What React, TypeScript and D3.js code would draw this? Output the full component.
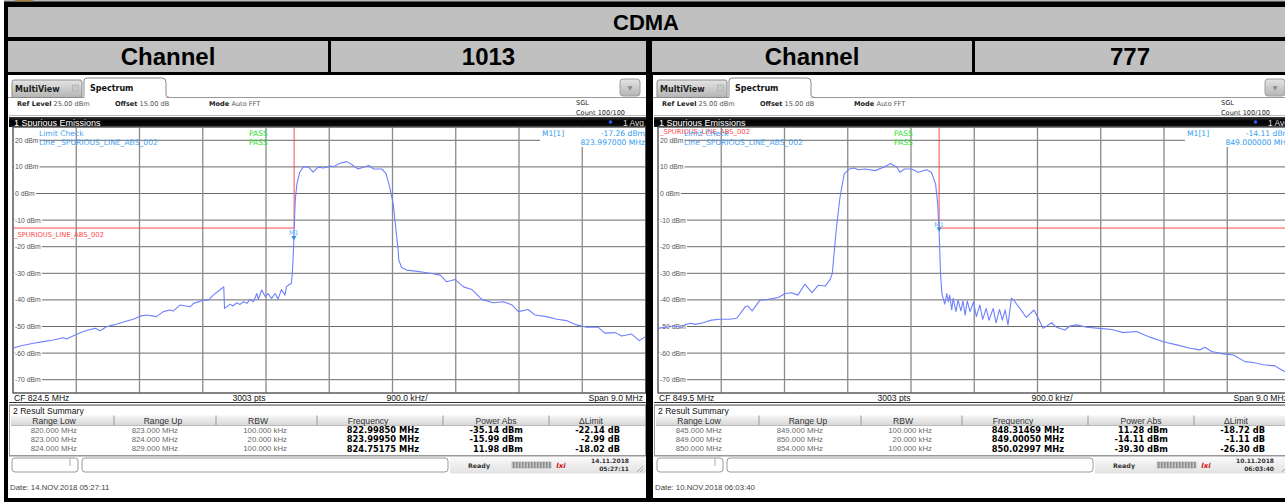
import React from 'react';
import * as d3 from 'd3';

const W = 1285;
const H = 502;

const SANS = "'Liberation Sans', Arial, sans-serif";
const VERD = "'DejaVu Sans', Verdana, sans-serif";

const yTicks = [20, 10, 0, -10, -20, -30, -40, -50, -60, -70];
const tableHeads = ['Range Low', 'Range Up', 'RBW', 'Frequency', 'Power Abs', '\u0394Limit'];

// channel 1013, CF 824.5 MHz (MHz, dBm)
const trace1013: [number, number][] = [
  [820.0, -58.2], [820.1, -57.3], [820.29, -56.3], [820.43, -55.7], [820.57, -55.1], [820.72, -54.2],
  [820.76, -54.7], [820.91, -52.9], [821.0, -51.9], [821.1, -51.1], [821.17, -50.7], [821.24, -51.6],
  [821.33, -50.1], [821.43, -49.4], [821.62, -47.9], [821.71, -47.3], [821.81, -46.1], [821.9, -45.7],
  [822.04, -46.3], [822.14, -44.4], [822.23, -43.8], [822.28, -44.2], [822.38, -41.9], [822.52, -42.6],
  [822.57, -41.3], [822.71, -40.1], [822.78, -40.1], [822.85, -38.2], [822.97, -35.7], [822.999, -35.1],
  [823.01, -43.2], [823.04, -42.6], [823.09, -41.6], [823.13, -42.3], [823.18, -41.1], [823.23, -41.7],
  [823.28, -40.7], [823.33, -41.3], [823.37, -39.8], [823.42, -40.7], [823.47, -37.6], [823.49, -39.8],
  [823.54, -36.3], [823.59, -38.8], [823.63, -37.6], [823.68, -39.4], [823.73, -37.6], [823.77, -39.7],
  [823.82, -36.1], [823.87, -38.2], [823.89, -35.1], [823.93, -34.2], [823.96, -33.8], [823.975, -30.1],
  [823.997, -17.3], [824.01, -6.4], [824.02, -1.4], [824.04, 3.6], [824.08, 8.0], [824.13, 9.9],
  [824.2, 10.1], [824.27, 8.0], [824.34, 9.9], [824.42, 9.6], [824.51, 10.3], [824.56, 10.1],
  [824.65, 11.4], [824.75, 11.98], [824.82, 10.9], [824.91, 9.2], [825.06, 10.5], [825.13, 9.2],
  [825.25, 9.2], [825.31, 7.4], [825.36, 2.4], [825.41, -3.9], [825.46, -16.4], [825.48, -21.3],
  [825.49, -25.1], [825.53, -27.8], [825.6, -28.8], [825.7, -29.1], [825.82, -29.5], [825.96, -30.1],
  [826.08, -30.7], [826.17, -33.2], [826.29, -32.3], [826.41, -35.1], [826.53, -36.1], [826.67, -39.8],
  [826.83, -41.1], [826.98, -40.7], [827.1, -41.9], [827.19, -44.4], [827.33, -43.6], [827.43, -45.7],
  [827.59, -46.3], [827.74, -47.3], [827.88, -47.8], [828.02, -49.4], [828.16, -50.3], [828.33, -50.3],
  [828.42, -52.5], [828.57, -52.3], [828.66, -53.6], [828.8, -52.8], [828.91, -55.3], [829.0, -53.8],
];

// channel 777, CF 849.5 MHz (MHz, dBm)
const trace777: [number, number][] = [
  [845.0, -50.7], [845.1, -50.3], [845.22, -49.8], [845.34, -50.3], [845.38, -49.4], [845.46, -48.8],
  [845.53, -49.2], [845.64, -48.6], [845.76, -47.6], [845.88, -47.3], [846.02, -47.3], [846.12, -46.9],
  [846.24, -42.6], [846.28, -42.3], [846.34, -44.1], [846.45, -40.1], [846.57, -39.8], [846.71, -39.1],
  [846.81, -37.6], [846.9, -37.3], [846.99, -38.2], [847.09, -34.1], [847.19, -37.3], [847.28, -34.5],
  [847.38, -34.8], [847.45, -32.3], [847.48, -30.1], [847.51, -21.3], [847.54, -12.6], [847.59, -1.4],
  [847.65, 7.4], [847.72, 9.2], [847.79, 9.6], [847.85, 8.9], [847.95, 9.2], [848.09, 8.6],
  [848.21, 9.9], [848.31, 11.28], [848.4, 9.9], [848.44, 8.0], [848.51, 9.2], [848.61, 9.2],
  [848.7, 8.0], [848.82, 8.9], [848.89, 8.0], [848.95, 3.6], [848.98, -3.9], [849.0, -14.11],
  [849.02, -30.1], [849.04, -37.6], [849.08, -41.6], [849.11, -37.6], [849.13, -40.7], [849.15, -38.2],
  [849.18, -43.8], [849.2, -39.4], [849.24, -44.4], [849.27, -40.1], [849.31, -44.1], [849.34, -40.4],
  [849.37, -45.7], [849.4, -40.4], [849.44, -44.4], [849.49, -40.7], [849.53, -46.3], [849.58, -41.9],
  [849.62, -47.3], [849.67, -43.2], [849.71, -47.6], [849.77, -43.2], [849.81, -48.6], [849.86, -43.6],
  [849.9, -47.6], [849.94, -43.8], [849.98, -49.4], [850.03, -39.3], [850.06, -40.1], [850.15, -43.2],
  [850.24, -46.6], [850.35, -43.8], [850.41, -46.9], [850.48, -50.7], [850.6, -48.6], [850.67, -50.3],
  [850.79, -51.3], [850.86, -49.8], [850.96, -49.4], [851.1, -50.3], [851.28, -50.7], [851.46, -51.1],
  [851.62, -52.3], [851.81, -51.9], [852.0, -54.0], [852.19, -55.7], [852.38, -56.9], [852.57, -58.2],
  [852.71, -58.8], [852.78, -57.8], [852.88, -59.4], [853.04, -60.3], [853.19, -60.7], [853.35, -63.2],
  [853.49, -63.6], [853.61, -64.4], [853.78, -64.8], [853.85, -66.0], [853.92, -66.9], [854.0, -67.3],
];

const limit1013: [number, number][] = [[820, -13], [824, -13], [824, 30]];
const limit777: [number, number][] = [[849, 30], [849, -13], [854, -13]];

const rangeLow1013 = ['820.000 MHz', '823.000 MHz', '824.000 MHz'];
const rangeUp1013 = ['823.000 MHz', '824.000 MHz', '829.000 MHz'];
const rangeLow777 = ['845.000 MHz', '849.000 MHz', '850.000 MHz'];
const rangeUp777 = ['849.000 MHz', '850.000 MHz', '854.000 MHz'];
const rbwValues = ['100.000 kHz', '20.000 kHz', '100.000 kHz'];
const peakFreq1013 = ['822.99850 MHz', '823.99950 MHz', '824.75175 MHz'];
const powerAbs1013 = ['-35.14 dBm', '-15.99 dBm', '11.98 dBm'];
const deltaLimit1013 = ['-22.14 dB', '-2.99 dB', '-18.02 dB'];
const peakFreq777 = ['848.31469 MHz', '849.00050 MHz', '850.02997 MHz'];
const powerAbs777 = ['11.28 dBm', '-14.11 dBm', '-39.30 dBm'];
const deltaLimit777 = ['-18.72 dB', '-1.11 dB', '-26.30 dB'];

interface PanelCfg {
  start: number;
  cf: string;
  trace: [number, number][];
  limit: [number, number][];
  limitLabelTop: boolean;
  marker: [number, number];
  markerText: [string, string];
  cols: string[][];
  date: string;
  time: string;
  dateLine: string;
}

const panels: PanelCfg[] = [
  {
    start: 820, cf: 'CF 824.5 MHz', trace: trace1013, limit: limit1013, limitLabelTop: false,
    marker: [823.997, -17.26], markerText: ['-17.26 dBm', '823.997000 MHz'],
    cols: [rangeLow1013, rangeUp1013, rbwValues, peakFreq1013, powerAbs1013, deltaLimit1013],
    date: '14.11.2018', time: '05:27:11', dateLine: 'Date: 14.NOV.2018  05:27:11',
  },
  {
    start: 845, cf: 'CF 849.5 MHz', trace: trace777, limit: limit777, limitLabelTop: true,
    marker: [849.0, -14.11], markerText: ['-14.11 dBm', '849.000000 MHz'],
    cols: [rangeLow777, rangeUp777, rbwValues, peakFreq777, powerAbs777, deltaLimit777],
    date: '10.11.2018', time: '06:03:40', dateLine: 'Date: 10.NOV.2018  06:03:40',
  },
];

const channels = ['1013', '777'];

// table column geometry (panel coords)
const colDiv = [114, 216, 317, 443, 549];
const headCenter = [54, 163, 258, 368, 496, 591];
const valRight = [77, 178, 287, 419, 523, 620];

const Panel: React.FC<{ ox: number; cfg: PanelCfg; idx: number }> = ({ ox, cfg, idx }) => {
  const x = d3.scaleLinear().domain([cfg.start, cfg.start + 9]).range([13, 645.5]);
  const y = d3.scaleLinear().domain([-75, 25]).range([393, 127]);
  const line = d3.line<[number, number]>().x(d => x(d[0])).y(d => y(d[1]));
  const vGrid = d3.range(1, 10).map(i => cfg.start + i * 0.9);
  const clipId = `plotclip${idx}`;
  const mx = x(cfg.marker[0]);
  const my = y(cfg.marker[1]);
  const limY = y(-13);
  const limStartX = x(cfg.limit[0][0]);
  return (
    <g transform={`translate(${ox},0)`}>
      <defs>
        <clipPath id={clipId}>
          <rect x={13} y={127} width={632.5} height={266} />
        </clipPath>
      </defs>
      <rect x={8} y={75} width={638} height={423} fill="#fff" />
      {/* tabs */}
      <line x1={8} x2={646} y1={97.5} y2={97.5} stroke="#9a9a9a" />
      <path d="M12,97.5 L12,82 Q12,80 14,80 L80,80 Q82,80 82,82 L82,97.5 Z" fill="url(#tabGrad)" stroke="#8a8a8a" />
      <text x={15} y={91.5} fontFamily={VERD} fontWeight="bold" fontSize={8} fill="#222">MultiView</text>
      <rect x={72.5} y={85} width={6} height={6} fill="#c8c8c8" stroke="#a8a8a8" strokeWidth={0.6} />
      <path d="M84,98 L84,81 Q84,78 87,78 L162,78 Q166,78 166,82 L166,95 Q166,97.5 170,97.5" fill="#fff" stroke="#8a8a8a" />
      <rect x={84.5} y={96.5} width={81} height={2} fill="#fff" />
      <text x={90} y={90.5} fontFamily={VERD} fontWeight="bold" fontSize={8} fill="#111">Spectrum</text>
      <rect x={620} y={79} width={20} height={17} rx={3} fill="url(#tabGrad)" stroke="#a0a0a0" />
      <text x={630} y={90} textAnchor="middle" fontSize={6} fill="#888" fontFamily={VERD}>{'\u25BC'}</text>
      {/* settings row */}
      <g fontFamily={VERD} fontSize={6.6} fill="#555">
        <text x={17} y={105.5}><tspan fontWeight="bold" fill="#222">Ref Level</tspan> 25.00 dBm</text>
        <text x={115} y={105.5}><tspan fontWeight="bold" fill="#222">Offset</tspan> 15.00 dB</text>
        <text x={209} y={105.5}><tspan fontWeight="bold" fill="#222">Mode</tspan> Auto FFT</text>
        <text x={576} y={105} fill="#222">SGL</text>
        <text x={576} y={114.5} fill="#222">Count 100/100</text>
      </g>
      <line x1={9} x2={646} y1={115.5} y2={115.5} stroke="#bbb" />
      <rect x={9} y={117} width={637} height={10} fill="url(#barGrad)" />
      <text x={14} y={125.5} fontFamily={SANS} fontSize={9} fill="#fff">1 Spurious Emissions</text>
      <circle cx={610.5} cy={122} r={1.8} fill="#2a5cff" />
      <text x={644} y={125.5} textAnchor="end" fontFamily={SANS} fontSize={8.5} fill="#ddd">1 Avg</text>
      {/* plot */}
      <rect x={13} y={127} width={632.5} height={266} fill="#fff" stroke="#666" />
      <g clipPath={`url(#${clipId})`}>
        {yTicks.map(t => (
          <line key={`h${t}`} x1={13} x2={646} y1={y(t)} y2={y(t)} stroke="#6a6a6a" strokeWidth={1} />
        ))}
        {vGrid.map(f => (
          <line key={`v${f}`} x1={x(f)} x2={x(f)} y1={127} y2={393} stroke="#8a8a8a" strokeWidth={1.3} />
        ))}
        {yTicks.map(t => (
          <text key={`l${t}`} x={15} y={y(t) + 2.4} fontFamily={SANS} fontSize={6.8} fill="#555"
            stroke="#fff" strokeWidth={3} paintOrder="stroke">{`${t} dBm`}</text>
        ))}
        <g fontFamily={VERD} fontSize={7.6}>
          {cfg.limitLabelTop && (
            <text x={15} y={133.5} fill="#ff4a4a" fontSize={6.8}>_SPURIOUS_LINE_ABS_002</text>
          )}
          <text x={39} y={135.5} fill="#4a9ff0">Limit Check</text>
          <text x={39} y={145} fill="#4a9ff0">Line _SPURIOUS_LINE_ABS_002</text>
          <text x={249} y={135.5} fill="#2ee02e">PASS</text>
          <text x={249} y={145} fill="#2ee02e">PASS</text>
        </g>
        <path d={line(cfg.limit) || ''} fill="none" stroke="#ff4c4c" strokeWidth={1} />
        {!cfg.limitLabelTop && (
          <text x={limStartX + 1} y={limY + 8.5} fontFamily={VERD} fontSize={6.8} fill="#ff4a4a">_SPURIOUS_LINE_ABS_002</text>
        )}
        <path d={line(cfg.trace) || ''} fill="none" stroke="#6f80ff" strokeWidth={1.1} strokeLinejoin="round" />
        <path d={`M${mx - 2.6},${my - 3.5} L${mx + 2.6},${my - 3.5} L${mx},${my + 0.8} Z`} fill="#2a8fe6" />
        <text x={mx} y={my - 4.5} textAnchor="middle" fontFamily={VERD} fontSize={6.5} fill="#5ab4f0">M1</text>
        <rect x={540} y={128} width={106} height={19} fill="#fff" />
        <g fontFamily={VERD} fontSize={7.6} fill="#2f9cf0">
          <text x={542} y={135.5}>M1[1]</text>
          <text x={645} y={135.5} textAnchor="end">{cfg.markerText[0]}</text>
          <text x={645} y={145} textAnchor="end">{cfg.markerText[1]}</text>
        </g>
      </g>
      <rect x={13} y={127} width={632.5} height={266} fill="none" stroke="#555" />
      {/* frequency row */}
      <g fontFamily={SANS} fontSize={8.6} fill="#111">
        <text x={14} y={400.5}>{cfg.cf}</text>
        <text x={249} y={400.5} textAnchor="middle">3003 pts</text>
        <text x={407} y={400.5} textAnchor="middle">900.0 kHz/</text>
        <text x={643} y={400.5} textAnchor="end">Span 9.0 MHz</text>
      </g>
      <line x1={9} x2={646} y1={402.5} y2={402.5} stroke="#333" />
      <line x1={9} x2={646} y1={404.5} y2={404.5} stroke="#aaa" />
      {/* result summary */}
      <rect x={9.5} y={405.5} width={636} height={50} fill="#fff" stroke="#999" />
      <text x={13} y={413.5} fontFamily={SANS} fontSize={8.6} fill="#111">2 Result Summary</text>
      <rect x={11} y={415.5} width={634} height={10} fill="url(#headGrad)" />
      {colDiv.map(d => (
        <line key={`cd${d}`} x1={d} x2={d} y1={415.5} y2={425.5} stroke="#999" />
      ))}
      <line x1={11} x2={645} y1={425.5} y2={425.5} stroke="#bbb" />
      {tableHeads.map((h, i) => (
        <text key={h} x={headCenter[i]} y={423.5} textAnchor="middle" fontFamily={SANS} fontSize={8.6} fill="#333">{h}</text>
      ))}
      {cfg.cols.map((col, ci) => col.map((v, ri) => (
        ci < 3 ? (
          <text key={`c${ci}${ri}`} x={valRight[ci]} y={432.5 + ri * 9.3} textAnchor="end"
            fontFamily={SANS} fontSize={7.8} fill="#6a6a6a">{v}</text>
        ) : (
          <text key={`c${ci}${ri}`} x={valRight[ci]} y={433 + ri * 9.3} textAnchor="end"
            fontFamily={VERD} fontWeight="bold" fontSize={8.3} fill="#000">{v}</text>
        )
      )))}
      {/* status bar */}
      <rect x={450} y={456.5} width={196} height={17} fill="url(#statGrad)" />
      <line x1={9} x2={646} y1={456.5} y2={456.5} stroke="#ccc" />
      <rect x={12} y={458} width={66} height={14} rx={3} fill="#fff" stroke="#9a9a9a" />
      <line x1={70} x2={70} y1={458} y2={466} stroke="#aaa" />
      <rect x={82} y={458} width={366} height={14} rx={3} fill="#fff" stroke="#9a9a9a" />
      <text x={468} y={467.5} fontFamily={VERD} fontWeight="bold" fontSize={6.3} fill="#333">Ready</text>
      <rect x={512} y={462} width={39} height={6} fill="url(#progPat)" stroke="#999" strokeWidth={0.5} />
      <text x={561} y={468} textAnchor="middle" fontFamily={VERD} fontWeight="bold" fontStyle="italic"
        fontSize={7} fill="#d01010">lxi</text>
      <g fontFamily={VERD} fontWeight="bold" fontSize={6} fill="#333" textAnchor="end">
        <text x={629} y={463}>{cfg.date}</text>
        <text x={629} y={471}>{cfg.time}</text>
      </g>
      <path d="M643,466 L637,472 M643,469 L640,472" stroke="#999" strokeWidth={0.8} />
      <text x={10} y={490} fontFamily={SANS} fontSize={7.8} fill="#444">{cfg.dateLine}</text>
    </g>
  );
};

const App: React.FC = () => {
  const headCells: [number, number, string][] = [
    [8, 328, 'Channel'], [331, 646, channels[0]], [652, 972, 'Channel'], [975, 1285, channels[1]],
  ];
  return (
    <svg width={W} height={H} style={{ position: 'absolute', left: 0, top: 0, display: 'block' }}>
      <defs>
        <linearGradient id="tabGrad" x1="0" y1="0" x2="0" y2="1">
          <stop offset="0" stopColor="#e4e4e4" />
          <stop offset="1" stopColor="#b4b4b4" />
        </linearGradient>
        <linearGradient id="barGrad" x1="0" y1="0" x2="0" y2="1">
          <stop offset="0" stopColor="#3a3a3a" />
          <stop offset="0.4" stopColor="#000" />
          <stop offset="1" stopColor="#111" />
        </linearGradient>
        <linearGradient id="headGrad" x1="0" y1="0" x2="0" y2="1">
          <stop offset="0" stopColor="#f6f6f6" />
          <stop offset="1" stopColor="#d6d6d6" />
        </linearGradient>
        <linearGradient id="statGrad" x1="0" y1="0" x2="0" y2="1">
          <stop offset="0" stopColor="#fafafa" />
          <stop offset="1" stopColor="#e2e2e2" />
        </linearGradient>
        <pattern id="progPat" width="3" height="6" patternUnits="userSpaceOnUse">
          <rect width="3" height="6" fill="#c8c8c8" />
          <rect width="1.5" height="6" fill="#8a8a8a" />
        </pattern>
      </defs>
      <rect x={0} y={0} width={W} height={H} fill="#000" />
      <rect x={0} y={0} width={4} height={H} fill="#fff" />
      <rect x={4} y={0} width={W} height={1.5} fill="#b8b8b8" />
      <rect x={15} y={0} width={18} height={1.5} fill="#a08040" />
      <rect x={8} y={7} width={W - 8} height={30} fill="#c0c0c0" />
      <text x={646} y={30} textAnchor="middle" fontFamily={SANS} fontWeight="bold" fontSize={22} fill="#000">CDMA</text>
      {headCells.map(([a, b, t], i) => (
        <g key={i}>
          <rect x={a} y={41} width={b - a} height={31} fill="#c0c0c0" />
          <text x={(a + b) / 2} y={65} textAnchor="middle" fontFamily={SANS} fontWeight="bold" fontSize={24} fill="#000">{t}</text>
        </g>
      ))}
      <Panel ox={0} cfg={panels[0]} idx={0} />
      <Panel ox={645} cfg={panels[1]} idx={1} />
    </svg>
  );
};

export default App;
